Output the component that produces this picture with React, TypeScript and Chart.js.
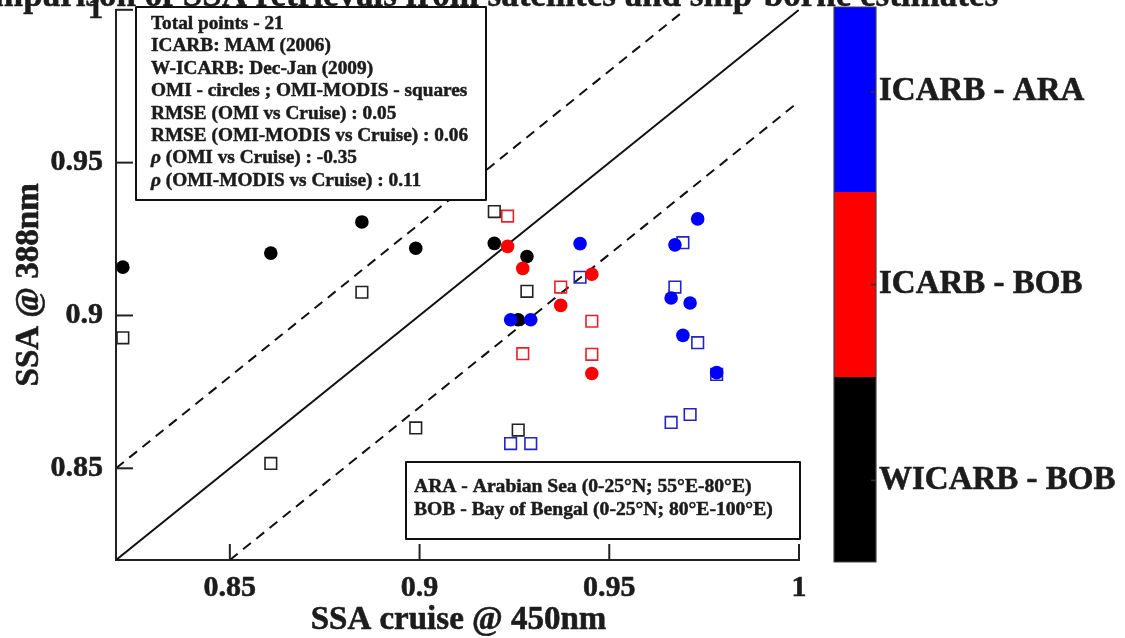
import { useEffect, useRef } from "react";
import { Chart, registerables } from "chart.js";

Chart.register(...registerables);

// ---------- data ----------
const xMin = 0.82;
const xMax = 1;
const yMin = 0.82;
const yMax = 1;
const xTicks = [0.85, 0.9, 0.95, 1];
const xTickLabels = ["0.85", "0.9", "0.95", "1"];
const yTicks = [0.85, 0.9, 0.95, 1];
const yTickLabels = ["0.85", "0.9", "0.95", "1"];
const bandOffset = 0.03;

// ICARB - ARA (blue)
const araCruise = [0.924, 0.9293, 0.9423, 0.9663, 0.9673, 0.9694, 0.9713, 0.9733, 0.9783];
const araOmi = [0.8986, 0.8986, 0.9235, 0.9057, 0.9231, 0.8935, 0.9041, 0.9316, 0.8813];
const araOmiModis = [0.8581, 0.8581, 0.9125, 0.865, 0.9093, 0.9238, 0.8676, 0.8911, 0.8807];

// ICARB - BOB (red)
const bobCruise = [0.9232, 0.9272, 0.9372, 0.9454, 0.9454];
const bobOmi = [0.9226, 0.9154, 0.9033, 0.9135, 0.881];
const bobOmiModis = [0.9325, 0.8875, 0.9093, 0.8981, 0.8873];

// WICARB - BOB (black)
const wicarbCruise = [0.8218, 0.8608, 0.8848, 0.899, 0.9197, 0.9283, 0.926];
const wicarbOmi = [0.9158, 0.9204, 0.9306, 0.922, 0.9236, 0.9193, 0.8986];
const wicarbOmiModis = [0.8927, 0.8516, 0.9076, 0.8632, 0.934, 0.9079, 0.8625];

const titleText = "Comparison of SSA retrievals from satellites and ship-borne estimates";
const xAxisTitle = "SSA cruise @ 450nm";
const yAxisTitle = "SSA @ 388nm";

const infoLines = [
  "Total points - 21",
  "ICARB: MAM (2006)",
  "W-ICARB: Dec-Jan (2009)",
  "OMI - circles ; OMI-MODIS - squares",
  "RMSE (OMI vs Cruise) : 0.05",
  "RMSE (OMI-MODIS vs Cruise) : 0.06",
  "ρ (OMI vs Cruise) : -0.35",
  "ρ (OMI-MODIS vs Cruise) : 0.11",
];
const regionLines = [
  "ARA - Arabian Sea (0-25°N; 55°E-80°E)",
  "BOB - Bay of Bengal (0-25°N; 80°E-100°E)",
];
const colorbarLabels = ["ICARB - ARA", "ICARB - BOB", "WICARB - BOB"];
const colorbarTickFractions = [0.153, 0.5, 0.853];
const colorbarColors = ["#0000ff", "#ff0000", "#000000"];

// ---------- helpers ----------
const FONT = '"Liberation Serif", "Times New Roman", serif';
const TEXT = "#1c1c1c";

const pts = (xs: number[], ys: number[]) => xs.map((x, i) => ({ x, y: ys[i] }));

const circleSet = (xs: number[], ys: number[], color: string) => ({
  data: pts(xs, ys),
  pointStyle: "circle",
  pointRadius: 6.8,
  pointBackgroundColor: color,
  pointBorderColor: color,
  pointBorderWidth: 0,
  showLine: false,
  clip: false,
});
const squareSet = (xs: number[], ys: number[], color: string) => ({
  data: pts(xs, ys),
  pointStyle: "rect",
  pointRadius: 8.2,
  pointBackgroundColor: "rgba(255,255,255,0)",
  pointBorderColor: color,
  pointBorderWidth: 1.6,
  showLine: false,
  clip: false,
});
const lineSet = (a: number[], b: number[], dash: number[]) => ({
  data: [
    { x: a[0], y: a[1] },
    { x: b[0], y: b[1] },
  ],
  showLine: true,
  borderColor: "#111",
  borderWidth: 2,
  borderDash: dash,
  pointRadius: 0,
  order: 10,
});

function heavyText(ctx: CanvasRenderingContext2D, s: string, x: number, y: number, w: number) {
  ctx.fillText(s, x, y);
  if (w > 0) {
    ctx.lineWidth = w;
    ctx.strokeStyle = ctx.fillStyle as string;
    ctx.lineJoin = "round";
    ctx.strokeText(s, x, y);
  }
}

const decorations = {
  id: "decorations",
  afterDraw(chart: any) {
    const ctx = chart.ctx as CanvasRenderingContext2D;
    const xs = chart.scales.x;
    const ys = chart.scales.y;
    const area = chart.chartArea;
    ctx.save();

    // inward tick marks
    ctx.strokeStyle = "#222";
    ctx.lineWidth = 2;
    xTicks.forEach((v) => {
      const px = xs.getPixelForValue(v);
      ctx.beginPath();
      ctx.moveTo(px, area.bottom);
      ctx.lineTo(px, area.bottom - 16);
      ctx.stroke();
    });
    yTicks.forEach((v) => {
      const py = ys.getPixelForValue(v);
      ctx.beginPath();
      ctx.moveTo(area.left, py);
      ctx.lineTo(area.left + 17, py);
      ctx.stroke();
    });

    // title (mostly cut off at top)
    ctx.fillStyle = TEXT;
    ctx.font = `bold 35px ${FONT}`;
    ctx.textAlign = "right";
    ctx.textBaseline = "alphabetic";
    heavyText(ctx, titleText, 998, 6, 0.5);

    // tick labels
    ctx.fillStyle = TEXT;
    ctx.font = `bold 30px ${FONT}`;
    ctx.textBaseline = "middle";
    ctx.textAlign = "center";
    xTicks.forEach((v, i) => {
      heavyText(ctx, xTickLabels[i], xs.getPixelForValue(v), 588, 0.6);
    });
    ctx.textAlign = "right";
    yTicks.forEach((v, i) => {
      heavyText(ctx, yTickLabels[i], 103, ys.getPixelForValue(v), 0.6);
    });

    // axis titles
    ctx.font = `bold 33px ${FONT}`;
    ctx.textAlign = "center";
    ctx.textBaseline = "middle";
    heavyText(ctx, xAxisTitle, (area.left + area.right) / 2 + 1, 620, 0.6);
    ctx.save();
    ctx.translate(29, (area.top + area.bottom) / 2);
    ctx.rotate(-Math.PI / 2);
    heavyText(ctx, yAxisTitle, 0, 0, 0.6);
    ctx.restore();

    // info box
    ctx.fillStyle = "#fff";
    ctx.fillRect(136, 7, 350, 193);
    ctx.strokeStyle = "#111";
    ctx.lineWidth = 2;
    ctx.strokeRect(136, 7, 350, 193);
    ctx.fillStyle = TEXT;
    ctx.textAlign = "left";
    ctx.textBaseline = "middle";
    infoLines.forEach((line, i) => {
      const y = 24 + i * 22.4;
      let x = 151;
      let rest = line;
      if (line.startsWith("ρ")) {
        ctx.font = `italic bold 19.3px ${FONT}`;
        heavyText(ctx, "ρ", x, y, 0.5);
        x += ctx.measureText("ρ").width;
        rest = line.slice(1);
      }
      ctx.font = `bold 19.3px ${FONT}`;
      heavyText(ctx, rest, x, y, 0.5);
    });

    // region box
    ctx.fillStyle = "#fff";
    ctx.fillRect(406, 462, 394, 77);
    ctx.strokeStyle = "#111";
    ctx.lineWidth = 2;
    ctx.strokeRect(406, 462, 394, 77);
    ctx.fillStyle = TEXT;
    ctx.font = `bold 19.6px ${FONT}`;
    regionLines.forEach((line, i) => {
      heavyText(ctx, line, 414, 487 + i * 23, 0.5);
    });

    // colorbar
    const cbLeft = 834;
    const cbRight = 876;
    const cbTop = 7;
    const cbBottom = 562;
    const h = cbBottom - cbTop;
    const seg = h / colorbarColors.length;
    colorbarColors.forEach((c, i) => {
      ctx.fillStyle = c;
      ctx.fillRect(cbLeft, cbTop + i * seg, cbRight - cbLeft, seg);
    });
    ctx.strokeStyle = "#444";
    ctx.lineWidth = 1.2;
    ctx.strokeRect(cbLeft, cbTop, cbRight - cbLeft, h);
    ctx.font = `bold 33px ${FONT}`;
    colorbarLabels.forEach((lab, i) => {
      const y = cbTop + colorbarTickFractions[i] * h;
      ctx.strokeStyle = "#333";
      ctx.lineWidth = 1.5;
      ctx.beginPath();
      ctx.moveTo(cbRight - 5, y);
      ctx.lineTo(cbRight, y);
      ctx.stroke();
      ctx.fillStyle = TEXT;
      heavyText(ctx, lab, 879, y, 0.6);
    });

    ctx.restore();
  },
};

export default function App() {
  const ref = useRef<HTMLCanvasElement | null>(null);

  useEffect(() => {
    if (!ref.current) return;
    const chart = new Chart(ref.current, {
      type: "scatter",
      data: {
        datasets: [
          circleSet(araCruise, araOmi, "#0000ff"),
          circleSet(bobCruise, bobOmi, "#ff0000"),
          circleSet(wicarbCruise, wicarbOmi, "#000000"),
          squareSet(araCruise, araOmiModis, "#2323c8"),
          squareSet(bobCruise, bobOmiModis, "#e8202a"),
          squareSet(wicarbCruise, wicarbOmiModis, "#222222"),
          lineSet([xMin, yMin], [xMax, yMax], []),
          lineSet([xMin, xMin + bandOffset], [xMax - bandOffset, yMax], [10, 7]),
          lineSet([xMin + bandOffset, yMin], [xMax, yMax - bandOffset], [10, 7]),
        ] as any,
      },
      options: {
        responsive: false,
        animation: false,
        devicePixelRatio: 1,
        events: [],
        layout: { padding: { top: 9, right: 326, bottom: 0, left: 0 } },
        plugins: {
          legend: { display: false },
          tooltip: { enabled: false },
          title: { display: false },
        },
        scales: {
          x: {
            type: "linear",
            min: xMin,
            max: xMax,
            afterBuildTicks: (s: any) => {
              s.ticks = xTicks.map((v) => ({ value: v }));
            },
            afterFit: (s: any) => {
              s.height = 78;
              s.paddingLeft = 0;
              s.paddingRight = 0;
            },
            grid: { display: true, drawOnChartArea: false, drawTicks: false },
            border: { display: true, color: "#222", width: 2 },
            ticks: { display: false },
          },
          y: {
            type: "linear",
            min: yMin,
            max: yMax,
            afterBuildTicks: (s: any) => {
              s.ticks = yTicks.map((v) => ({ value: v }));
            },
            afterFit: (s: any) => {
              s.width = 116;
              s.paddingTop = 0;
              s.paddingBottom = 0;
            },
            grid: { display: true, drawOnChartArea: false, drawTicks: false },
            border: { display: true, color: "#222", width: 2 },
            ticks: { display: false },
          },
        },
      } as any,
      plugins: [decorations],
    });
    return () => chart.destroy();
  }, []);

  return (
    <div style={{ position: "fixed", left: 0, top: 0, width: 1125, height: 638, background: "#fff" }}>
      <canvas ref={ref} width={1125} height={638} style={{ display: "block", width: 1125, height: 638 }} />
    </div>
  );
}
